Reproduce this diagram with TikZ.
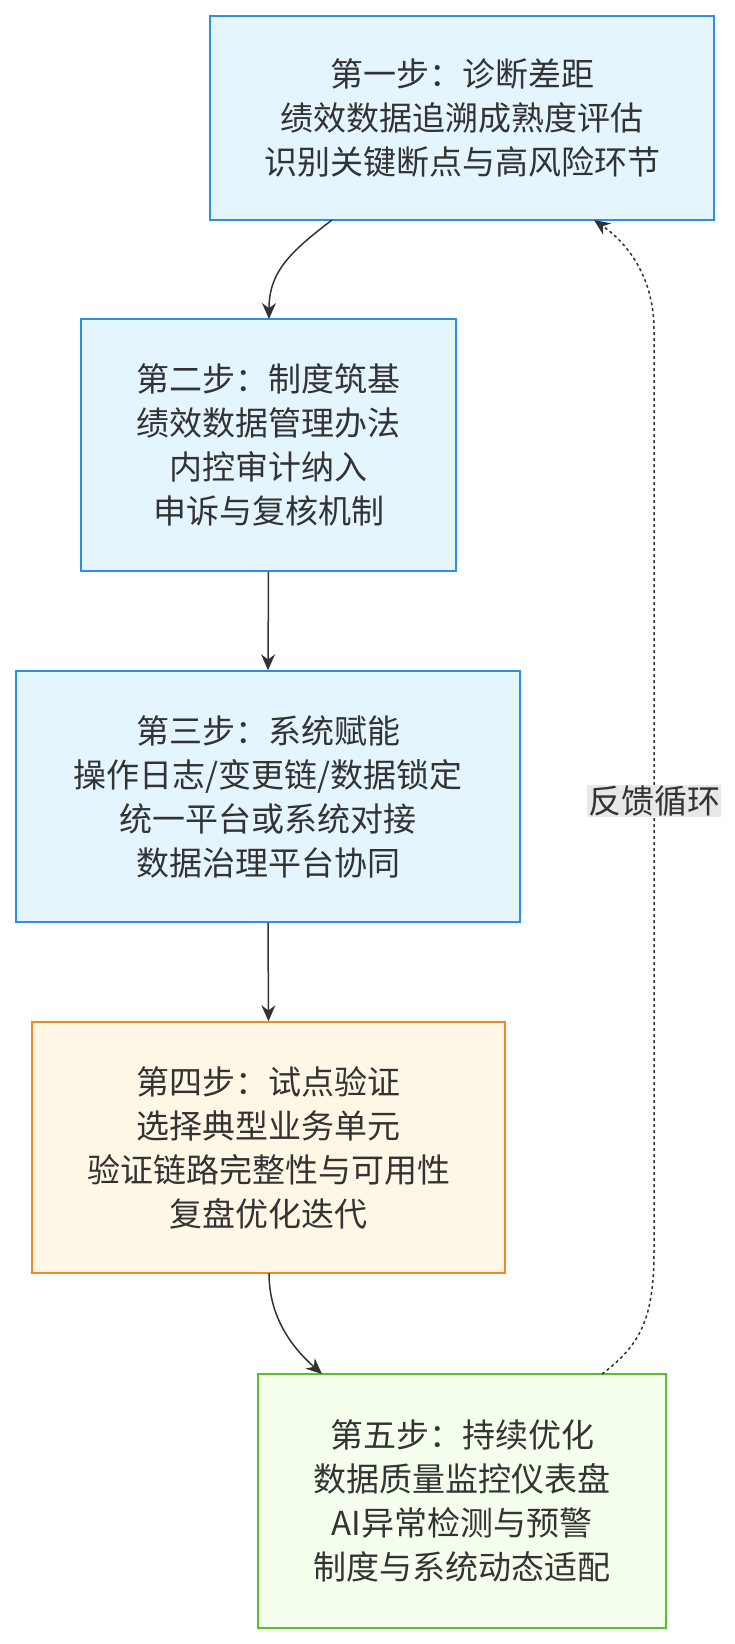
\documentclass[tikz,border=0pt]{standalone}
\usepackage{fontspec}
\setmainfont{Noto Sans CJK SC}
\usetikzlibrary{arrows.meta}
\definecolor{bfill}{HTML}{E4F5FE}\definecolor{bdraw}{HTML}{2B8FEA}
\definecolor{ofill}{HTML}{FFF7E6}\definecolor{odraw}{HTML}{F08A24}
\definecolor{gfill}{HTML}{F4FFEE}\definecolor{gdraw}{HTML}{56C226}
\definecolor{txt}{HTML}{333333}
\begin{document}
\begin{tikzpicture}[x=1pt,y=-1pt,
  box/.style={draw,line width=1.5pt,inner sep=0pt,font=\fontsize{33}{44}\selectfont,text=txt,align=center},
  bb/.style={box,fill=bfill,draw=bdraw},
  ob/.style={box,fill=ofill,draw=odraw},
  gb/.style={box,fill=gfill,draw=gdraw},
  arr/.style={draw=txt,line width=1.5pt,-{Stealth[length=16pt,width=14pt]}}]
\useasboundingbox (0,0) rectangle (735,1644);
\node[bb,minimum width=504pt,minimum height=204pt] (s1) at (462,118) {第一步：诊断差距\\绩效数据追溯成熟度评估\\识别关键断点与高风险环节};
\node[bb,minimum width=375pt,minimum height=252pt] (s2) at (268.5,445) {第二步：制度筑基\\绩效数据管理办法\\内控审计纳入\\申诉与复核机制};
\node[bb,minimum width=504pt,minimum height=251pt] (s3) at (268,796.5) {第三步：系统赋能\\操作日志/变更链/数据锁定\\统一平台或系统对接\\数据治理平台协同};
\node[ob,minimum width=473pt,minimum height=251pt] (s4) at (268.5,1147.5) {第四步：试点验证\\选择典型业务单元\\验证链路完整性与可用性\\复盘优化迭代};
\node[gb,minimum width=408pt,minimum height=254pt] (s5) at (462,1501) {第五步：持续优化\\数据质量监控仪表盘\\AI异常检测与预警\\制度与系统动态适配};
\coordinate (a1) at (332,220);
\draw[arr] (a1) .. controls (290,252) and (269,272) .. (269,319);
\draw[arr] (s2.south) -- (s3.north);
\draw[arr] (s3.south) -- (s4.north);
\coordinate (a4) at (269,1273);
\draw[arr] (a4) .. controls (269,1320) and (295,1350) .. (322,1374);
\coordinate (f0) at (602,1374);
\coordinate (f1) at (594,220);
\draw[arr,dash pattern=on 3pt off 3pt] (f0) .. controls (640,1345) and (654,1320) .. (654,1250) -- (654,330) .. controls (654,280) and (630,245) .. (f1);
\node[fill=black!9,inner sep=1pt,font=\fontsize{33}{36}\selectfont,text=txt] (lbl) at (654,801) {反馈循环};
\end{tikzpicture}
\end{document}
